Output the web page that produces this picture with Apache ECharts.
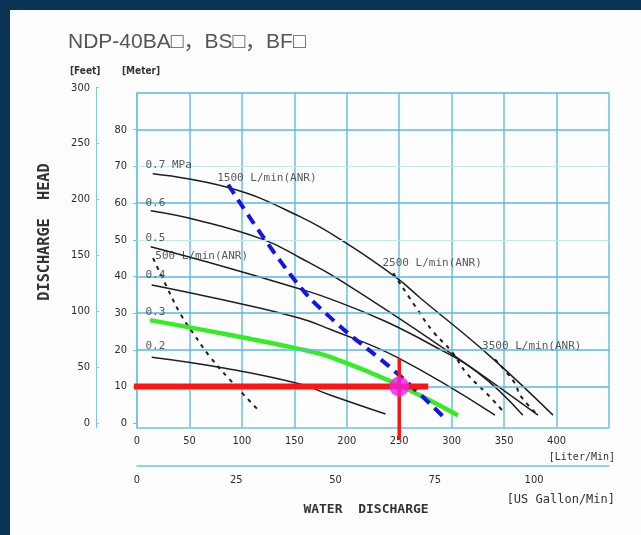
<!DOCTYPE html>
<html><head><meta charset="utf-8">
<script src="https://cdn.jsdelivr.net/npm/echarts@6/dist/echarts.min.js"></script>
<style>
html,body{margin:0;padding:0;background:#0c3356;width:641px;height:535px;overflow:hidden;}
#paper{position:absolute;left:10px;top:10px;width:631px;height:525px;background:#fdfdfd;}
#chart{position:absolute;left:0;top:0;width:641px;height:535px;}
</style></head><body>
<div id="paper"></div><div id="chart"></div>
<script>
// ---- tick labels ----
const literTicks = [0, 50, 100, 150, 200, 250, 300, 350, 400];
const gallonTicks = [0, 25, 50, 75, 100];
const meterTicks = [0, 10, 20, 30, 40, 50, 60, 70, 80];
const feetTicks = [0, 50, 100, 150, 200, 250, 300];
const gridLevels = [10, 20, 30, 40, 60, 80, 90];
const faintGridLevels = [50, 70];
const LITERS_PER_GALLON = 3.78541;
const FEET_PER_METER = 3.28084;
const X_MAX = 450, Y_MIN = -1.3, Y_MAX = 90, FEET_MAX = 300;

// ---- pressure curves [L/min, m] ----
const curve07 = [[15, 68], [88.7, 64.1], [155.4, 56.3], [199.9, 49.0], [247.6, 39.6], [269.8, 34.2], [336.5, 18.3], [396.6, 2.2]];
const curve06 = [[13.1, 57.9], [56.9, 55.4], [120.1, 50.1], [155.4, 45.1], [193.5, 39.0], [292.0, 20.5], [382.3, 2.2]];
const curve05 = [[13.1, 48.1], [83.9, 42.6], [155.4, 36.6], [184.0, 33.9], [235.0, 28.0], [279.3, 21.6], [325.0, 13.8], [367.9, 2.2]];
const curve04 = [[14.0, 37.7], [83.9, 33.5], [155.4, 28.6], [184.0, 25.6], [247.6, 18.0], [341.3, 2.2]];
const curve03 = [[12.4, 28.1], [83.9, 24.3], [155.4, 20.2], [184.0, 18.1], [241.2, 11.5], [306.0, 2.2]];
const curve02 = [[14.0, 18.0], [83.9, 15.0], [155.4, 10.7], [184.0, 7.7], [237.0, 2.5]];

// ---- air consumption lines [L/min, m] ----
const air500 = [[15.3, 45.0], [28.3, 37.2], [41.0, 30.0], [53.7, 24.5], [69.6, 18.1], [88.7, 11.8], [115.6, 3.6]];
const air1500 = [[87, 65], [149.0, 39.5], [187.1, 28.1], [247.6, 13.7], [292.0, 1.8]];
const air2500 = [[244.3, 40.9], [266.6, 31.3], [282.5, 24.9], [300.0, 19.5], [314.3, 13.6], [333.4, 8.1], [350.8, 2.7]];
const air3500 = [[341.3, 17.4], [360.3, 10.9], [365.1, 7.7], [380.4, 2.7]];

// ---- operating point ----
const opPoint = [250, 10];
const opHLine = [[-7.8, 10], [277.7, 10]];
const opVLine = [[250, 17.7], [250, -4.5]];

// ---- curve labels [x, y, text] ----
const pressureLabels = [[7.6, 70.4, '0.7 MPa'], [7.6, 60.0, '0.6'], [7.6, 50.5, '0.5'], [7.6, 40.4, '0.4'], [7.6, 30.4, '0.3'], [7.6, 20.9, '0.2']];
const airLabels = [[76, 66.8, '1500 L/min(ANR)'], [17, 45.6, '500 L/min(ANR)'], [233.5, 43.7, '2500 L/min(ANR)'], [328.5, 21.1, '3500 L/min(ANR)']];

const font = "'DejaVu Sans Condensed','DejaVu Sans',sans-serif";
const mono = "'DejaVu Sans Mono',monospace";
const axisBlue = '#6cc4e6';
const gridH = '#58b7e4';
const gridV = '#66c2e2';
const ink = '#2b2b2b';

function curve(data, color, width, type, z) {
  return { type: 'line', data: data, smooth: 0.45, symbol: 'none', silent: true,
    xAxisIndex: 0, yAxisIndex: 0, z: z || 3,
    lineStyle: { color: color, width: width, type: type || 'solid', cap: 'butt' } };
}
function labels(data, size) {
  return { type: 'scatter', data: data, symbolSize: 1, silent: true, xAxisIndex: 0, yAxisIndex: 0, z: 6,
    itemStyle: { color: 'rgba(0,0,0,0)' },
    label: { show: true, position: 'right', distance: 0, formatter: p => p.value[2],
      fontFamily: mono, fontSize: size, color: '#2a2f36' } };
}

const gridLineData = gridLevels.map(v => ({ yAxis: v, lineStyle: { color: gridH, width: 1.5, type: 'solid' } }))
  .concat(faintGridLevels.map(v => ({ yAxis: v, lineStyle: { color: '#c4e6f5', width: 1.2, type: 'solid' } })));

const chart = echarts.init(document.getElementById('chart'), null, { renderer: 'canvas' });
chart.setOption({
  animation: false,
  backgroundColor: 'transparent',
  grid: [
    { left: 137, right: 32, top: 93, bottom: 107, show: false },
    { left: 96, width: 1, top: 87.7, bottom: 107, show: false }
  ],
  xAxis: [
    { type: 'value', gridIndex: 0, min: 0, max: X_MAX, interval: 50, position: 'bottom',
      axisLine: { show: true, onZero: false, lineStyle: { color: axisBlue, width: 1.5 } },
      axisTick: { show: false },
      axisLabel: { margin: 8, fontSize: 11, color: ink, fontFamily: font,
        formatter: v => literTicks.includes(v) ? String(v) : '' },
      splitLine: { show: true, lineStyle: { color: gridV, width: 1.5 } } },
    { type: 'value', gridIndex: 0, min: 0, max: X_MAX / LITERS_PER_GALLON, interval: 25, position: 'bottom', offset: 38,
      axisLine: { show: true, onZero: false, lineStyle: { color: axisBlue, width: 1.5 } },
      axisTick: { show: false },
      axisLabel: { margin: 9, fontSize: 11, color: ink, fontFamily: font, customValues: gallonTicks,
        formatter: v => gallonTicks.includes(v) ? String(v) : '' },
      splitLine: { show: false } },
    { type: 'value', gridIndex: 1, show: false, min: 0, max: 1 }
  ],
  yAxis: [
    { type: 'value', gridIndex: 0, min: Y_MIN, max: Y_MAX, splitNumber: 9, minInterval: 10, maxInterval: 10,
      axisLine: { show: true, onZero: false, lineStyle: { color: axisBlue, width: 1.5 } },
      axisTick: { show: true, length: 4, customValues: meterTicks, lineStyle: { color: axisBlue } },
      axisLabel: { margin: 10, fontSize: 11, color: ink, fontFamily: font, customValues: meterTicks,
        formatter: v => meterTicks.includes(v) ? String(v) : '' },
      splitLine: { show: false } },
    { type: 'value', gridIndex: 1, min: Y_MIN * FEET_PER_METER, max: FEET_MAX, minInterval: 50, maxInterval: 50,
      axisLine: { show: true, onZero: false, lineStyle: { color: '#7ccbe2', width: 1 } },
      axisTick: { show: true, inside: true, length: 3, customValues: feetTicks, lineStyle: { color: '#7ccbe2' } },
      axisLabel: { margin: 6, fontSize: 11, color: ink, fontFamily: font, customValues: feetTicks,
        formatter: v => feetTicks.includes(v) ? String(v) : '' },
      splitLine: { show: false } }
  ],
  series: [
    { type: 'line', data: [[0, Y_MIN]], symbol: 'none', silent: true, z: 1, xAxisIndex: 0, yAxisIndex: 0,
      lineStyle: { opacity: 0 },
      markLine: { silent: true, symbol: 'none', label: { show: false }, animation: false, data: gridLineData } },
    curve(curve07, '#1e1e1e', 1.5),
    curve(curve06, '#1e1e1e', 1.5),
    curve(curve05, '#1e1e1e', 1.5),
    curve(curve04, '#1e1e1e', 1.5),
    curve(curve02, '#1e1e1e', 1.5),
    curve(curve03, '#33ee22', 4.5, 'solid', 4),
    curve(air500, '#1e1e1e', 2, [4, 5]),
    curve(air2500, '#1e1e1e', 2, [4, 5]),
    curve(air3500, '#1e1e1e', 2, [4, 5]),
    curve(air1500, '#1414e6', 4, [11, 7], 5),
    { type: 'line', data: opHLine, symbol: 'none', clip: false, silent: true, z: 6,
      lineStyle: { color: '#ff1414', width: 6 } },
    { type: 'line', data: opVLine, symbol: 'none', clip: false, silent: true, z: 6,
      lineStyle: { color: '#ff1414', width: 3.5 } },
    { type: 'scatter', data: [opPoint], symbolSize: 20, silent: true, z: 7,
      itemStyle: { color: '#f01ee6' } },
    labels(pressureLabels, 11),
    labels(airLabels, 11)
  ],
  graphic: [
    { type: 'text', x: 68, y: 42, style: { text: 'NDP-40BA□，BS□，BF□', align: 'left', verticalAlign: 'middle',
      font: "21px 'Liberation Sans','Noto Sans CJK JP',sans-serif", fill: '#555' } },
    { type: 'text', x: 70, y: 71, style: { text: '[Feet]', align: 'left', verticalAlign: 'middle',
      font: "bold 10px 'DejaVu Sans Condensed',sans-serif", fill: '#333' } },
    { type: 'text', x: 122, y: 71, style: { text: '[Meter]', align: 'left', verticalAlign: 'middle',
      font: "bold 10px 'DejaVu Sans Condensed',sans-serif", fill: '#333' } },
    { type: 'text', x: 45, y: 232, rotation: Math.PI / 2, scaleX: 1.17, scaleY: 1.25,
      style: { text: 'DISCHARGE  HEAD', align: 'center', verticalAlign: 'middle',
      font: "bold 13px 'DejaVu Sans Mono',monospace", fill: '#333' } },
    { type: 'text', x: 366, y: 510, style: { text: 'WATER  DISCHARGE', align: 'center', verticalAlign: 'middle',
      font: "bold 13px 'DejaVu Sans Mono',monospace", fill: '#333' } },
    { type: 'text', x: 615, y: 457, style: { text: '[Liter/Min]', align: 'right', verticalAlign: 'middle',
      font: "10px 'DejaVu Sans Mono',monospace", fill: '#333' } },
    { type: 'text', x: 615, y: 500, style: { text: '[US Gallon/Min]', align: 'right', verticalAlign: 'middle',
      font: "12px 'DejaVu Sans Mono',monospace", fill: '#333' } }
  ]
});
</script>
</body></html>
